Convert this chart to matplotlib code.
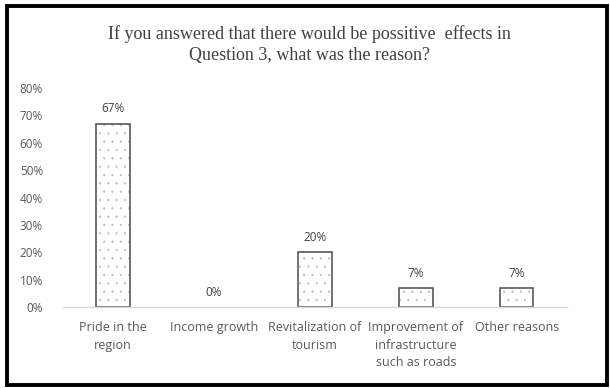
import numpy as np
import matplotlib.pyplot as plt
from matplotlib.patches import Rectangle
from matplotlib.ticker import PercentFormatter

# 回答データ
categories = ["Pride in the\nregion", "Income growth", "Revitalization of\ntourism",
              "Improvement of\ninfrastructure\nsuch as roads", "Other reasons"]
shares = [0.67, 0.00, 0.20, 0.07, 0.07]
yticks = [0.0, 0.1, 0.2, 0.3, 0.4, 0.5, 0.6, 0.7, 0.8]

plt.rcParams["hatch.linewidth"] = 0.4

fig = plt.figure(figsize=(6.1, 3.88), dpi=100)
ax = fig.add_axes([0.1025, 0.208, 0.8275, 0.565])

x = np.arange(len(categories))
# 点描の塗り（薄いグレー）
ax.bar(x, shares, width=0.33, color="white", edgecolor="#bdbdbd",
       linewidth=0, hatch="..")
# 枠線
edges = ["#595959" if v > 0 else "none" for v in shares]
ax.bar(x, shares, width=0.33, color="none", edgecolor=edges, linewidth=1.2)
for xi, v in zip(x, shares):
    ax.text(xi, v + 0.03, f"{v*100:.0f}%", ha="center", va="bottom",
            fontsize=8.5, color="#404040", family="Open Sans")

ax.set_xlim(-0.5, len(categories) - 0.5)
ax.set_ylim(0, 0.8)
ax.set_yticks(yticks)
ax.yaxis.set_major_formatter(PercentFormatter(1.0, decimals=0))
ax.set_xticks(x)
ax.set_xticklabels(categories, fontsize=9, color="#595959", family="Open Sans",
                   linespacing=1.45)
for lab in ax.get_yticklabels():
    lab.set_fontsize(8.5)
    lab.set_color("#595959")
    lab.set_family("Open Sans")
ax.tick_params(axis="x", length=0, pad=10)
ax.tick_params(axis="y", length=0, pad=14)
for s in ["top", "right", "left"]:
    ax.spines[s].set_visible(False)
ax.spines["bottom"].set_color("#d9d9d9")
ax.spines["bottom"].set_linewidth(1)

fig.text(0.508, 0.884, "If you answered that there would be possitive  effects in\nQuestion 3, what was the reason?",
         ha="center", va="center", fontsize=13, color="#404040",
         family="Liberation Serif", linespacing=1.3)

# 外枠
fig.patches.append(Rectangle((0.0115, 0.008), 0.983, 0.977, transform=fig.transFigure,
                             fill=False, edgecolor="black", linewidth=2.8))

plt.savefig("out.png", dpi=100)
